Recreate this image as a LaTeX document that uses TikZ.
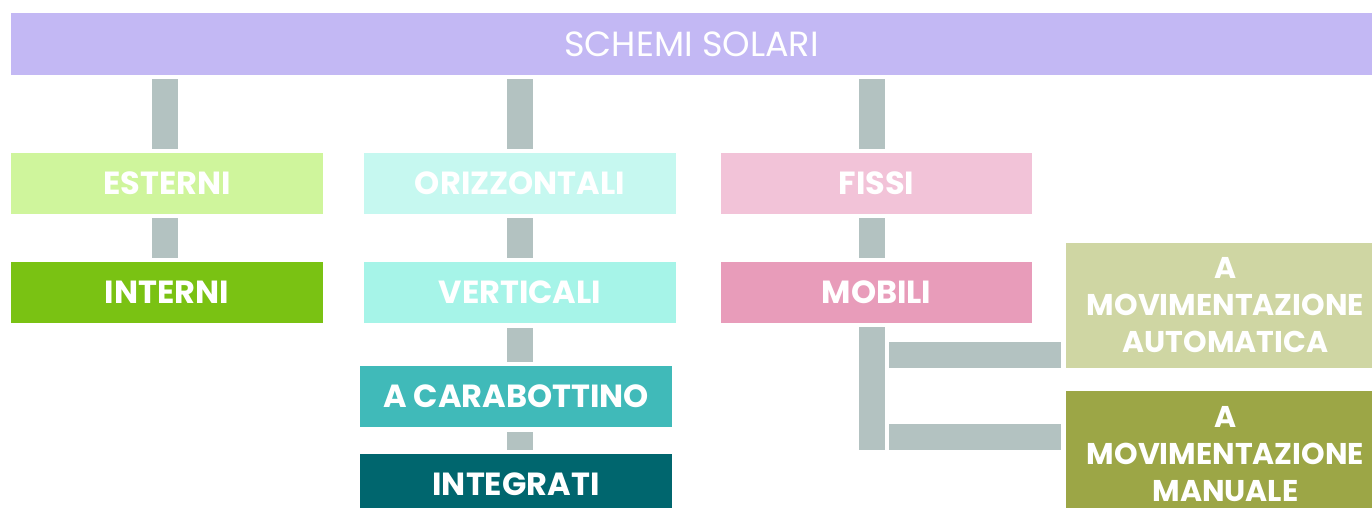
\documentclass[tikz,border=0pt]{standalone}
\usepackage{fontspec}
\setmainfont{Poppins}
\usetikzlibrary{calc}
\definecolor{cBanner}{HTML}{C3B8F4}
\definecolor{cBar}{HTML}{B3C2C1}
\definecolor{cEst}{HTML}{CFF59C}
\definecolor{cInt}{HTML}{7AC213}
\definecolor{cOri}{HTML}{C6F8F0}
\definecolor{cVer}{HTML}{A6F4E8}
\definecolor{cCar}{HTML}{40BAB9}
\definecolor{cIng}{HTML}{00666E}
\definecolor{cFis}{HTML}{F2C3D8}
\definecolor{cMob}{HTML}{E89CBA}
\definecolor{cAut}{HTML}{CFD6A3}
\definecolor{cMan}{HTML}{9CA646}
\begin{document}
\begin{tikzpicture}[x=1pt,y=-1pt,
  box/.style={rectangle,inner sep=0pt,minimum width=312pt,minimum height=61pt,text=white,
    font=\fontsize{32}{36}\selectfont\bfseries,align=center},
  bigbox/.style={box,minimum width=319pt,minimum height=125pt,font=\fontsize{30}{37}\selectfont\bfseries},
  bar/.style={draw=cBar,line width=26pt}]
\useasboundingbox (0,0) rectangle (1372,508);
\begin{scope}
\clip (0,0) rectangle (1372,508);
\node[box,fill=cBanner,minimum width=1361pt,minimum height=62pt,font=\fontsize{35}{40}\selectfont] (ban) at (691.5,44) {SCHEMI SOLARI};
\node[box,fill=cEst] (est) at (167,183.5) {ESTERNI};
\node[box,fill=cInt] (int) at (167,292.5) {INTERNI};
\node[box,fill=cOri] (ori) at (520,183.5) {ORIZZONTALI};
\node[box,fill=cVer] (ver) at (520,292.5) {VERTICALI};
\node[box,fill=cCar] (car) at (516,396.5) {A CARABOTTINO};
\node[box,fill=cIng] (ing) at (516,484.5) {INTEGRATI};
\node[box,fill=cFis,minimum width=311pt] (fis) at (876.5,183.5) {FISSI};
\node[box,fill=cMob,minimum width=311pt] (mob) at (876.5,292.5) {MOBILI};
\node[bigbox,fill=cAut] (aut) at (1225.5,305.5) {A\\MOVIMENTAZIONE\\AUTOMATICA};
\node[bigbox,fill=cMan,text depth=0pt] (man) at (1225.5,453.5) {A\\MOVIMENTAZIONE\\MANUALE};
% connectors
\draw[bar] ($(ban.south -| est)+(-2.5,4)$) -- ($(est.north)+(-2.5,-4)$);
\draw[bar] ($(est.south)+(-2.5,4)$) -- ($(int.north)+(-2.5,-4)$);
\draw[bar] ($(ban.south -| ori)+(0,4)$) -- ($(ori.north)+(0,-4)$);
\draw[bar] ($(ori.south)+(0,4)$) -- ($(ver.north)+(0,-4)$);
\draw[bar] ($(ver.south)+(0,5)$) -- ($(car.north -| ver)+(0,-4)$);
\draw[bar] ($(car.south -| ver)+(0,5)$) -- ($(ing.north -| ver)+(0,-4)$);
\draw[bar] ($(ban.south -| fis)+(-4.5,4)$) -- ($(fis.north)+(-4.5,-4)$);
\draw[bar] ($(fis.south)+(-4.5,4)$) -- ($(mob.north)+(-4.5,-4)$);
\coordinate (tr) at ($(mob.south)+(-4.5,4)$);
\coordinate (tb) at ($(tr)+(0,123)$);
\draw[bar] (tr) -- (tb);
\draw[bar] ($(aut.south west)+(-5,-13)$) -- ($(aut.south west -| tr)+(17,-13)$);
\draw[bar] ($(tb)+(17,-13)$) -- ($(tb -| man.west)+(-5,-13)$);
\end{scope}
\end{tikzpicture}
\end{document}
